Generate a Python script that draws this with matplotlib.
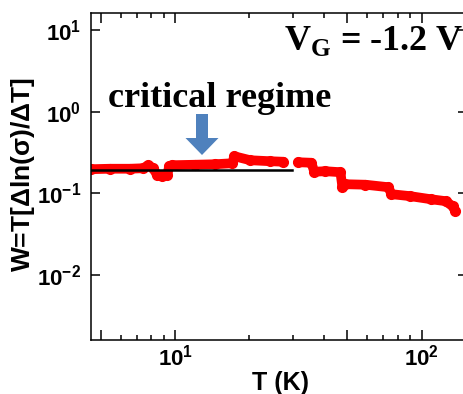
import matplotlib
matplotlib.use("Agg")
import matplotlib.pyplot as plt
from matplotlib.patches import FancyArrow
from matplotlib.ticker import FixedLocator, FixedFormatter, NullLocator, NullFormatter

plt.rcParams['font.family'] = ['Liberation Sans']
plt.rcParams['font.weight'] = 'bold'
plt.rcParams['mathtext.fontset'] = 'custom'
plt.rcParams['mathtext.bf'] = 'Liberation Serif:bold'
plt.rcParams['mathtext.rm'] = 'Liberation Serif:bold'

# W(T) trace, two runs with a gap near 30 K
T_low = [4.555, 5.44, 6.56, 7.41, 7.77, 8.14, 8.45, 8.86, 9.28, 9.45, 9.72,
         12.06, 14.54, 17.05, 17.37, 20.18, 24.33, 27.48]
W_low = [0.198, 0.2006, 0.2006, 0.2035, 0.2214, 0.2035, 0.1672, 0.1626, 0.1672,
         0.2153, 0.2214, 0.2245, 0.2277, 0.2342, 0.285, 0.2547, 0.2477, 0.2442]
T_high = [31.6, 35.71, 36.7, 40.7, 46.85, 47.74, 49.1, 59.2, 73.4, 75.5,
          90.2, 108.8, 125.2, 133.7, 137.4]
W_high = [0.2408, 0.2374, 0.1845, 0.1871, 0.1819, 0.1193, 0.1298, 0.128, 0.1193,
          0.0981, 0.0927, 0.0852, 0.0806, 0.070, 0.0608]

# flat guide line in the critical regime
fit_T = [4.55, 29.9]
fit_W = [0.196, 0.196]

x_major = [5, 10, 50, 100]
x_major_labels = ['', r'$\mathdefault{10^{1}}$', '', r'$\mathdefault{10^{2}}$']
x_minor = [6, 7, 8, 9, 20, 30, 40, 60, 70, 80, 90]
y_major = [1e-2, 1e-1, 1, 10]
y_major_labels = [r'$\mathdefault{10^{-2}}$', r'$\mathdefault{10^{-1}}$',
                  r'$\mathdefault{10^{0}}$', r'$\mathdefault{10^{1}}$']

fig = plt.figure(figsize=(4.64, 3.94), dpi=100, facecolor='white')
ax = fig.add_axes([91 / 464, 1 - 340 / 394, 376 / 464, 327 / 394])

for T, W in [(T_low, W_low), (T_high, W_high)]:
    ax.plot(T, W, color='#ff0000', lw=7, marker='o', ms=7, mec='#ff0000',
            solid_capstyle='round', solid_joinstyle='round', zorder=2)
ax.plot(fit_T, fit_W, color='black', lw=1.8, zorder=3)

ax.set_xscale('log')
ax.set_yscale('log')
ax.set_xlim(4.55, 153)
ax.set_ylim(0.001625, 16.0)

ax.xaxis.set_major_locator(FixedLocator(x_major))
ax.xaxis.set_major_formatter(FixedFormatter(x_major_labels))
ax.xaxis.set_minor_locator(FixedLocator(x_minor))
ax.xaxis.set_minor_formatter(NullFormatter())
ax.yaxis.set_major_locator(FixedLocator(y_major))
ax.yaxis.set_major_formatter(FixedFormatter(y_major_labels))
ax.yaxis.set_minor_locator(NullLocator())

ax.tick_params(which='both', direction='in', top=True, right=True, width=1.1)
ax.tick_params(axis='x', which='major', length=7, labelsize=16, pad=3)
ax.tick_params(axis='x', which='minor', length=3.6)
ax.tick_params(axis='y', which='major', length=6.5, labelsize=16, pad=7)
for s in ax.spines.values():
    s.set_linewidth(1.1)

ax.set_xlabel('T (K)', fontsize=18, fontweight='bold')
ax.xaxis.set_label_coords(0.505, -0.095)
ax.set_ylabel(r'W=T[$\mathdefault{\Delta}$ln($\mathdefault{\sigma}$)/$\mathdefault{\Delta}$T]',
              fontsize=19, fontweight='bold')
ax.yaxis.set_label_coords(-0.143, 0.505)

fig.text(108 / 464, 1 - 107 / 394, 'critical regime', fontsize=26,
         family='Liberation Serif', weight='bold', ha='left', va='baseline')
fig.text(284 / 464, 1 - 50 / 394, r'V$_\mathbf{G}$ = -1.2 V', fontsize=26,
         family='Liberation Serif', weight='bold', ha='left', va='baseline')

arrow = FancyArrow(2.02, 2.80, 0, -0.41, width=0.12, head_width=0.33,
                   head_length=0.17, length_includes_head=True,
                   transform=fig.dpi_scale_trans, color='#4F81BD', lw=0)
fig.add_artist(arrow)

fig.savefig('out.png', dpi=100)
